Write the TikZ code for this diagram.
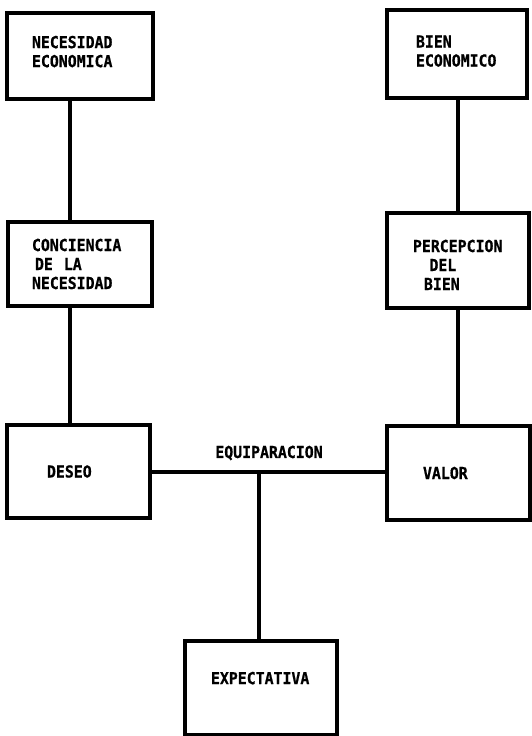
\documentclass[tikz,border=0pt]{standalone}
\usepackage{fontspec}
\newfontfamily\boxfont{DejaVu Sans Mono}[FakeStretch=0.9, BoldFeatures={FakeBold=0.8}]
\begin{document}
\begin{tikzpicture}[x=1pt,y=-1pt,
  lbl/.style={inner sep=0pt, font=\boxfont\bfseries\fontsize{16.5}{19}\selectfont},
  box/.style={lbl, draw, line width=3.3pt, rectangle, align=left},
  conn/.style={line width=3.3pt}]
\useasboundingbox (0,0) rectangle (532,736);
\node[box, minimum width=146pt, minimum height=86pt, text width=96pt] (b1) at (80,56)
  {NECESIDAD\\ECONOMICA\rule[-9pt]{0pt}{0pt}};
\node[box, minimum width=140pt, minimum height=88pt, text width=82pt] (b2) at (457,54)
  {BIEN\\ECONOMICO\rule[-6pt]{0pt}{0pt}};
\node[box, minimum width=144pt, minimum height=84pt, text width=96pt] (b3) at (80,264)
  {CONCIENCIA\\\hspace*{3pt}DE\ \ LA\\NECESIDAD};
\node[box, minimum width=142pt, minimum height=95pt, text width=90pt] (b4) at (458,260.5)
  {PERCEPCION\rule{0pt}{21pt}\\\ \ \ DEL\\\ \ BIEN};
\node[box, minimum width=143pt, minimum height=93pt, text width=63pt] (b5) at (78.5,471.5)
  {DESEO};
\node[box, minimum width=143pt, minimum height=94pt, text width=71pt] (b6) at (458.5,473)
  {VALOR};
\node[box, minimum width=152pt, minimum height=94pt, text width=100pt] (b7) at (261,688)
  {EXPECTATIVA\rule[-20pt]{0pt}{0pt}};
\node[lbl] (eq) at (269,453) {EQUIPARACION};
\coordinate (lx) at (70,0);
\coordinate (rx) at (458,0);
\coordinate (jx) at (259,472);
\draw[conn] (lx |- b1.south) -- (lx |- b3.north);
\draw[conn] (lx |- b3.south) -- (lx |- b5.north);
\draw[conn] (rx |- b2.south) -- (rx |- b4.north);
\draw[conn] (rx |- b4.south) -- (rx |- b6.north);
\draw[conn] (b5.east |- jx) -- (b6.west |- jx);
\draw[conn] (jx) -- (jx |- b7.north);
\end{tikzpicture}
\end{document}
